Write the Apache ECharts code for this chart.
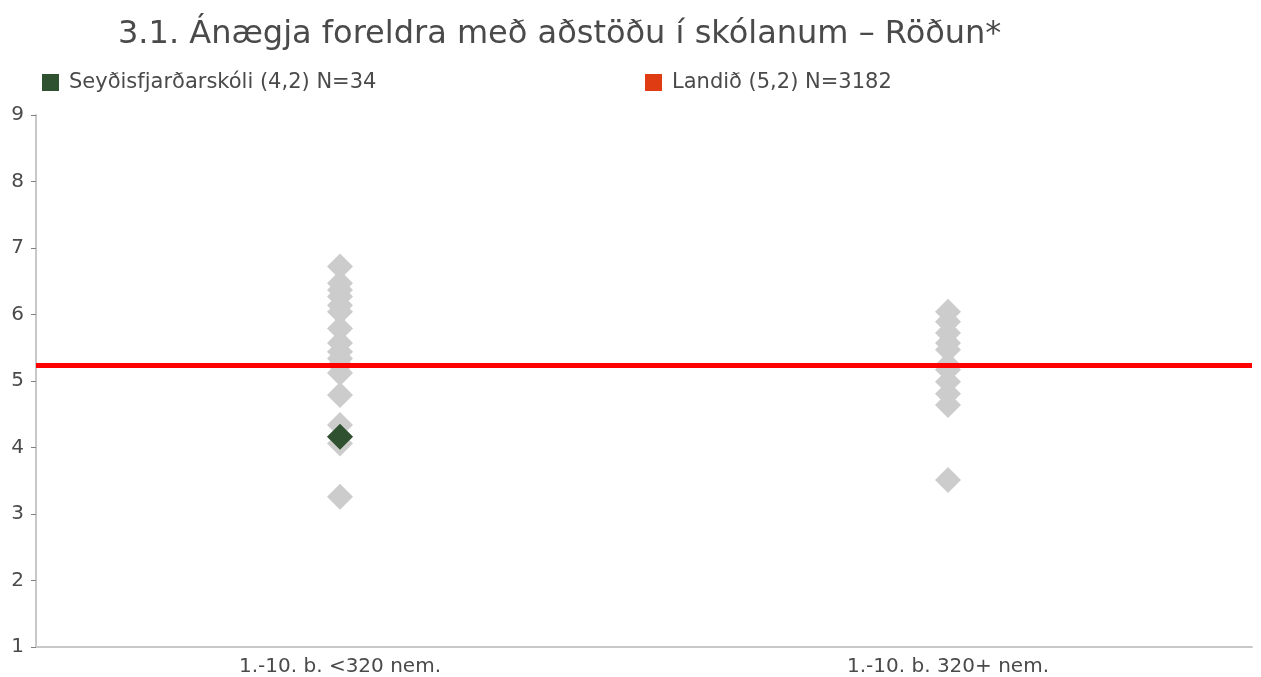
<!DOCTYPE html>
<html>
<head>
<meta charset="utf-8">
<script src="https://cdn.jsdelivr.net/npm/echarts@6/dist/echarts.min.js"></script>
<style>
  html, body { margin: 0; padding: 0; background: #fff; }
  #chart { width: 1261px; height: 677px; }
</style>
</head>
<body>
<div id="chart"></div>
<script>
// School size groups on the x axis
const categories = ['1.-10. b. <320 nem.', '1.-10. b. 320+ nem.'];
// Mean scores of all schools in each size group
const schoolsSmall = [6.72, 6.47, 6.37, 6.27, 6.14, 6.04, 5.79, 5.57, 5.44, 5.34, 5.24, 5.12, 4.79, 4.34, 4.16, 4.06, 3.26];
const schoolsLarge = [6.04, 5.89, 5.72, 5.57, 5.47, 5.24, 5.17, 4.99, 4.81, 4.64, 3.51];
// Highlighted school and national average
const schoolName = 'Seyðisfjarðarskóli';
const schoolN = 34;
const schoolValue = 4.16;
const schoolCategory = 0;
const nationalName = 'Landið';
const nationalN = 3182;
const nationalValue = 5.24;
const yTicks = { min: 1, max: 9, interval: 1 };

const fmt = v => v.toFixed(1).replace('.', ',');
const schoolLabel = `${schoolName} (${fmt(schoolValue)}) N=${schoolN}`;
const nationalLabel = `${nationalName} (${fmt(nationalValue)}) N=${nationalN}`;

const textColor = '#4a4a4a';
const font = '"DejaVu Sans", sans-serif';

const chart = echarts.init(document.getElementById('chart'), null, { renderer: 'canvas' });
chart.setOption({
  animation: false,
  backgroundColor: '#ffffff',
  title: {
    text: '3.1. Ánægja foreldra með aðstöðu í skólanum – Röðun*',
    left: 113,
    top: 14,
    textStyle: { fontFamily: font, fontSize: 32, fontWeight: 'normal', color: textColor }
  },
  legend: [
    {
      data: [schoolLabel],
      left: 37, top: 67,
      icon: 'rect', itemWidth: 17, itemHeight: 17, itemGap: 10,
      textStyle: { fontFamily: font, fontSize: 21, color: textColor, padding: [0, 0, 0, 5] },
      selectedMode: false
    },
    {
      data: [nationalLabel],
      left: 640, top: 67,
      icon: 'rect', itemWidth: 17, itemHeight: 17, itemGap: 10,
      textStyle: { fontFamily: font, fontSize: 21, color: textColor, padding: [0, 0, 0, 5] },
      selectedMode: false
    }
  ],
  grid: { left: 36, right: 9, top: 115, bottom: 30, containLabel: false },
  xAxis: {
    type: 'category',
    data: categories,
    boundaryGap: true,
    axisLine: { show: true, lineStyle: { color: '#c8c8c8', width: 2 } },
    axisTick: { show: false },
    axisLabel: { fontFamily: font, fontSize: 20, color: textColor, margin: 10 },
    splitLine: { show: false }
  },
  yAxis: {
    type: 'value',
    min: yTicks.min, max: yTicks.max, interval: yTicks.interval,
    axisLine: { show: true, lineStyle: { color: '#c8c8c8', width: 2 } },
    axisTick: { show: true, length: 5, lineStyle: { color: '#808080', width: 1 } },
    axisLabel: { fontFamily: font, fontSize: 20, color: textColor, margin: 12 },
    splitLine: { show: false }
  },
  series: [
    {
      name: 'schools',
      type: 'scatter',
      symbol: 'diamond',
      symbolSize: 26,
      itemStyle: { color: '#cccccc', opacity: 1 },
      data: schoolsSmall.map(v => [0, v]).concat(schoolsLarge.map(v => [1, v])),
      z: 2
    },
    {
      name: nationalLabel,
      type: 'scatter',
      data: [],
      itemStyle: { color: '#e03c14', opacity: 1 },
      markLine: {
        silent: true,
        symbol: ['none', 'none'],
        label: { show: false },
        lineStyle: { color: '#ff0000', width: 5, type: 'solid', opacity: 1 },
        data: [{ yAxis: nationalValue }]
      },
      z: 3
    },
    {
      name: schoolLabel,
      type: 'scatter',
      symbol: 'diamond',
      symbolSize: 26,
      itemStyle: { color: '#2f5130', opacity: 1 },
      data: [[schoolCategory, schoolValue]],
      z: 4
    }
  ]
});
</script>
</body>
</html>
